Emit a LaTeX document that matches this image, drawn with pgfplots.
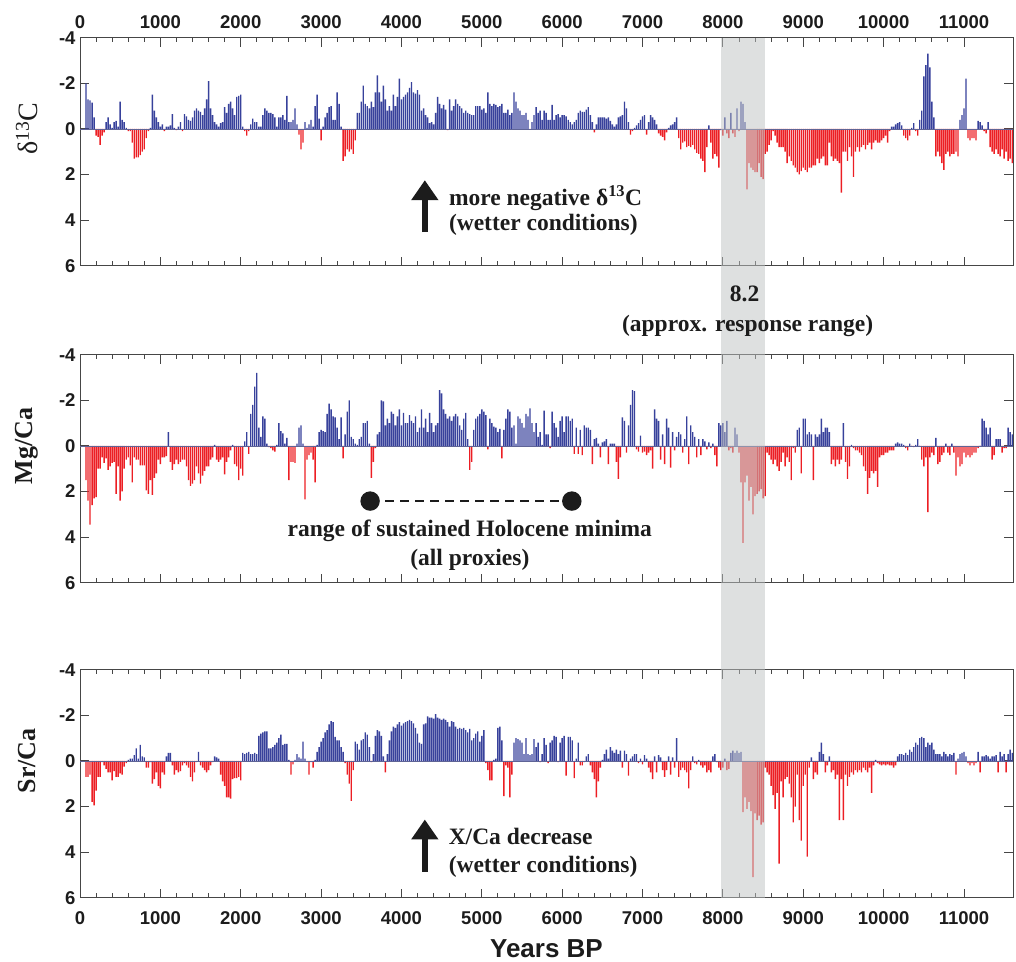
\documentclass[border=0pt]{standalone}
\usepackage{fontspec}
\setmainfont{Liberation Serif}
\newfontfamily\sansfont{Liberation Sans}
\usepackage{pgfplots}
\usepackage{pgfplotstable}
\pgfplotsset{compat=1.18}
\usetikzlibrary{arrows.meta}

\definecolor{proxyblue}{RGB}{55,65,155}
\definecolor{proxyred}{RGB}{236,30,36}
\definecolor{axisgray}{RGB}{70,70,70}
\definecolor{bandgray}{RGB}{190,194,194}
\definecolor{zerocol}{RGB}{95,100,150}
\definecolor{inkblack}{RGB}{28,28,28}

\newcommand\ticklabelfont{\sansfont\bfseries\fontsize{18.5bp}{20bp}\selectfont}
\newcommand\labelfont{\bfseries\fontsize{26bp}{28bp}\selectfont}
\newcommand\annfont{\bfseries\fontsize{23.5bp}{25bp}\selectfont}

% age (yr BP) and detrended anomalies of the three proxies
\pgfplotstableread{
age d13C MgCa SrCa
75 -2.0 1.5 0.7
100 -1.3 2.4 0.7
125 -1.25 3.45 0.6
150 -1.15 2.6 1.8
175 -0.5 2.3 1.95
200 0.3 2.25 1.3
225 0.35 1.0 0.7
250 0.7 1.0 0.7
275 0.3 0.5 0.05
300 0.15 0.75 0.2
325 -0.3 0.55 0.35
350 -0.5 1.05 0.5
375 -0.2 0.9 0.5
400 -0.05 0.75 0.85
425 -0.3 0.7 0.45
450 -0.35 2.1 0.7
475 -0.1 0.9 0.7
500 -1.2 2.4 0.55
525 -0.4 2.0 0.6
550 -0.3 1.0 0.25
575 -0.05 0.6 0.1
600 0.1 0.5 -0.05
625 0.1 0.85 -0.1
650 0.6 1.6 -0.1
675 1.3 0.5 -0.25
700 1.25 0.6 -0.55
725 1.25 0.6 -0.1
750 1.15 0.85 -0.7
775 1.0 0.85 -0.2
800 0.9 0.85 -0.15
825 0.4 1.95 0.3
850 0.1 2.1 0.3
875 -0.05 1.5 0.05
900 -1.5 2.15 1.0
925 -0.8 1.4 0.8
950 -0.5 1.2 0.5
975 -0.3 0.6 1.1
1000 -0.1 0.8 1.2
1025 -0.2 0.5 0.5
1050 0.1 0.5 0.6
1075 -0.1 0.45 -0.2
1100 -0.1 -0.6 -0.35
1125 -0.15 0.7 -0.35
1150 -0.65 1.05 0.2
1175 -0.05 0.8 0.6
1200 0.05 0.6 0.4
1225 -0.1 0.8 0.5
1250 -0.3 0.7 0.45
1275 0.1 0.6 0.2
1300 -0.65 0.6 0.1
1325 -0.55 0.9 0.2
1350 -0.4 1.5 0.3
1375 -0.35 1.75 0.7
1400 -0.5 1.65 0.9
1425 -0.8 1.5 0.5
1450 -0.9 0.9 0.05
1475 -0.8 1.2 -0.4
1500 -0.75 1.65 0.2
1525 -0.6 1.3 0.3
1550 -0.9 1.1 0.4
1575 -1.3 0.9 0.5
1600 -2.1 0.9 0.4
1625 -0.9 0.6 0.2
1650 -0.6 0.5 0.05
1675 -0.3 -0.05 -0.2
1700 -0.2 0.6 -0.15
1725 -0.1 0.7 -0.1
1750 -0.25 0.6 0.6
1775 -0.3 0.5 0.9
1800 -0.95 1.25 1.1
1825 -0.7 0.7 1.6
1850 -1.1 0.5 1.6
1875 -1.2 0.2 1.65
1900 -0.9 -0.05 0.8
1925 -0.6 0.8 0.75
1950 -1.4 0.9 0.75
1975 -1.45 1.5 0.7
2000 -1.5 1.0 0.85
2025 -0.1 1.3 -0.35
2050 0.1 -0.2 -0.3
2075 0.3 -0.6 -0.35
2100 0.1 0.35 -0.4
2125 -0.2 -1.4 -0.3
2150 -0.45 -1.8 -0.3
2175 -0.3 -2.6 -0.35
2200 -0.3 -3.2 -0.3
2225 -0.1 -0.8 -1.1
2250 -0.1 -0.4 -1.2
2275 -0.6 -1.3 -1.25
2300 -0.9 -1.2 -1.3
2325 -0.8 -0.1 -1.3
2350 -0.7 0.05 -0.55
2375 -0.7 0.1 -0.55
2400 -0.65 0.2 -0.6
2425 -0.5 0.25 -0.7
2450 -0.1 -0.05 -0.8
2475 -0.5 -1.0 -1.0
2500 -0.5 -0.65 -1.15
2525 -0.6 -0.55 -0.7
2550 -0.4 -0.1 -0.75
2575 -1.45 -0.35 -0.75
2600 -0.3 1.5 -0.05
2625 -0.3 0.7 0.6
2650 -0.4 0.7 0.15
2675 -0.9 0.75 -0.05
2700 -0.2 -0.1 -0.3
2725 0.25 -0.8 -0.15
2750 0.9 -0.9 -0.1
2775 0.6 -0.1 -0.85
2800 -0.3 2.35 -0.1
2825 -0.05 0.6 0.05
2850 -0.2 0.4 0.6
2875 -0.4 0.3 0.05
2900 -0.1 0.6 0.3
2925 -1.0 1.6 -0.05
2950 -1.5 -0.05 -0.4
2975 -0.45 -0.6 -0.6
3000 0.5 -0.7 -0.85
3025 -0.1 -0.65 -1.0
3050 -0.5 -0.6 -1.25
3075 -0.7 -1.4 -1.35
3100 -0.95 -1.85 -1.6
3125 -1.0 -1.6 -1.75
3150 -0.4 -1.3 -1.7
3175 -0.4 -1.25 -1.05
3200 -1.6 -0.8 -0.9
3225 -1.1 -0.3 -0.9
3250 -0.1 -1.25 -0.6
3275 1.4 0.55 -0.4
3300 1.2 -0.5 0.1
3325 0.9 -1.5 0.6
3350 1.0 -2.0 1.0
3375 0.9 -0.4 1.75
3400 1.1 -0.3 0.4
3425 0.5 -0.1 -0.85
3450 -0.7 -0.05 -0.75
3475 -0.7 -0.3 -0.5
3500 -1.2 -0.4 -0.9
3525 -1.9 -1.0 -0.95
3550 -1.1 -1.0 -1.25
3575 -1.0 -1.1 -1.15
3600 -0.9 -0.1 -0.6
3625 -1.2 1.4 0.05
3650 -0.95 0.7 -0.3
3675 -1.6 0.1 -1.1
3700 -2.35 -0.5 -1.35
3725 -1.6 -0.6 -1.3
3750 -1.2 -2.0 -1.1
3775 -1.9 -1.95 -0.2
3800 -1.3 -0.9 0.5
3825 -0.8 -1.2 -0.3
3850 -1.0 -1.0 -0.9
3875 -0.8 -1.5 -1.3
3900 -1.5 -1.4 -1.5
3925 -1.0 -0.9 -1.45
3950 -1.4 -1.3 -1.6
3975 -2.2 -1.6 -1.7
4000 -1.3 -0.9 -1.55
4025 -1.4 -1.45 -1.65
4050 -1.5 -1.0 -1.7
4075 -1.6 -1.0 -1.75
4100 -1.8 -1.35 -1.8
4125 -2.05 -1.1 -1.75
4150 -1.6 -1.0 -1.65
4175 -1.55 -1.3 -1.45
4200 -1.7 -0.6 -1.2
4225 -1.5 -0.8 -0.8
4250 -0.8 -1.6 -0.75
4275 -0.9 -0.8 -1.6
4300 -0.6 -1.2 -1.65
4325 -0.5 -0.6 -1.95
4350 -0.25 -1.45 -1.9
4375 -0.3 -1.0 -1.9
4400 -0.2 -0.6 -1.85
4425 -0.7 -0.9 -2.05
4450 -1.4 -1.0 -1.9
4475 -1.1 -2.45 -1.85
4500 -0.9 -2.3 -1.8
4525 -1.05 -1.6 -1.85
4550 -0.85 -1.4 -1.8
4575 0.05 -1.2 -1.7
4600 -1.3 -1.3 -1.5
4625 -0.8 -1.1 -1.75
4650 -1.0 -1.3 -1.7
4675 -1.3 -1.4 -1.5
4700 -1.1 -1.3 -1.4
4725 -1.0 -0.9 -1.45
4750 -0.9 -0.7 -1.4
4775 -0.7 -1.2 -1.45
4800 -0.8 -1.45 -1.35
4825 -0.7 -0.3 -1.25
4850 -0.65 1.05 -1.4
4875 -0.6 0.7 -0.9
4900 -0.6 -0.7 -1.0
4925 -1.0 -1.2 -1.2
4950 -1.0 -1.3 -1.3
4975 -1.0 -1.4 -0.85
5000 -0.85 -1.6 -1.1
5025 -0.9 -1.5 -1.35
5050 -0.7 -1.35 0.1
5075 -1.6 0.15 0.4
5100 -1.1 -1.2 0.85
5125 -1.0 -1.0 0.85
5150 -1.1 -0.85 -0.05
5175 -1.05 -0.8 -0.1
5200 -0.95 -0.6 -1.45
5225 -1.0 -0.75 -1.5
5250 -1.1 0.55 -0.9
5275 -0.7 -0.7 1.55
5300 -0.7 -1.2 0.2
5325 -0.85 -1.6 0.3
5350 -0.6 -1.5 1.6
5375 -0.7 -0.8 0.6
5400 -1.6 -0.9 -0.8
5425 -1.2 -0.1 -1.0
5450 -0.9 -1.3 -0.95
5475 -0.8 -1.2 -0.9
5500 -0.6 -1.0 -0.8
5525 -0.6 -0.8 -0.3
5550 -0.7 -1.4 -1.0
5575 -0.4 -1.3 -0.3
5600 0.02 -1.65 -0.25
5625 -0.3 -1.0 -0.3
5650 -0.6 -0.6 -0.95
5675 -0.95 -1.0 -0.6
5700 -0.7 -0.4 -0.8
5725 -0.8 -0.6 0.05
5750 -0.4 -0.05 -0.3
5775 -0.8 -1.55 -1.0
5800 -0.7 -0.5 -0.7
5825 -0.4 -0.5 0.1
5850 -0.4 0.1 -0.8
5875 -1.05 -1.5 -0.9
5900 -0.4 -1.0 -1.1
5925 -0.6 -0.8 -1.05
5950 -0.65 -0.4 0.05
5975 -0.5 -1.1 -0.8
6000 -0.6 -1.3 -1.0
6025 -0.6 -0.6 -1.1
6050 -0.55 -1.3 0.65
6075 -0.4 -1.3 -1.05
6100 -0.3 -1.1 -1.05
6125 -0.2 -1.2 -0.9
6150 -0.3 0.35 0.75
6175 -0.4 -0.8 -0.1
6200 -0.7 0.35 -0.8
6225 -0.8 -0.7 0.2
6250 -0.75 0.4 0.2
6275 -0.75 -0.9 0.05
6300 -0.85 -0.8 -0.2
6325 -0.95 -0.8 -0.3
6350 -0.6 -0.7 0.2
6375 -0.3 0.8 0.5
6400 0.15 -0.3 0.8
6425 -0.2 -0.35 1.6
6450 -0.5 -0.1 0.9
6475 -0.5 0.5 0.3
6500 -0.5 -0.15 -0.05
6525 -0.5 -0.2 -0.3
6550 -0.45 -0.3 -0.5
6575 -0.5 0.8 -0.1
6600 -0.35 -0.1 -0.6
6625 -0.2 -0.1 -0.45
6650 -0.1 -0.1 -0.35
6675 -0.2 0.7 -0.5
6700 -0.5 1.45 -0.3
6725 -0.55 0.5 -0.45
6750 -0.6 -1.25 0.3
6775 -1.2 -1.1 -0.45
6800 -0.9 0.3 -0.3
6825 -0.3 -0.9 0.65
6850 0.25 -1.8 -0.1
6875 0.1 -2.45 -0.2
6900 -0.05 -2.4 -0.3
6925 -0.15 0.15 -0.3
6950 -0.25 0.25 0.1
6975 -0.4 -0.45 -0.1
7000 -0.55 0.3 0.15
7025 -0.6 0.25 -0.25
7050 0.25 0.4 -0.1
7075 -0.3 0.3 0.3
7100 -0.6 0.2 0.5
7125 -0.5 1.0 0.8
7150 -0.4 -1.6 -0.2
7175 -0.2 -1.2 0.5
7200 0.2 -1.1 -0.25
7225 0.3 0.6 -0.15
7250 0.35 -0.5 0.4
7275 0.5 0.8 0.7
7300 0.15 -1.2 0.4
7325 -0.05 -0.8 -0.2
7350 -0.15 0.95 0.6
7375 -0.2 -0.6 -0.15
7400 -0.3 0.2 0.3
7425 -0.5 -0.4 -1.0
7450 0.4 -0.6 0.7
7475 0.9 -0.5 0.4
7500 0.6 0.3 0.3
7525 0.55 -0.3 0.4
7550 0.8 -1.3 0.5
7575 0.75 0.8 1.2
7600 0.8 -0.9 0.4
7625 0.7 -0.6 -0.2
7650 0.9 -0.4 0.1
7675 1.05 0.5 0.15
7700 1.1 -0.3 -0.05
7725 1.3 0.4 0.2
7750 1.4 -0.3 0.3
7775 1.9 -0.2 0.2
7800 0.8 0.15 0.5
7825 -0.15 -0.15 0.4
7850 0.6 0.1 0.5
7875 1.3 -0.1 -0.2
7900 1.1 0.4 -0.3
7925 1.2 0.9 0.05
7950 1.7 -1.0 0.3
7975 0.05 -0.9 0.4
8000 0.3 -1.0 0.3
8025 -0.5 -0.6 -0.1
8050 0.2 -1.1 0.4
8075 0.4 0.2 0.35
8100 -0.7 0.1 -0.35
8125 0.2 0.3 -0.45
8150 0.35 -0.8 -0.35
8175 -0.9 -0.5 -0.45
8200 0.1 0.3 -0.35
8225 -1.2 1.6 -0.4
8250 -1.1 4.25 2.25
8275 -0.3 1.6 1.6
8300 2.65 1.3 2.1
8325 1.5 2.4 1.8
8350 1.7 1.8 2.2
8375 1.8 3.0 5.1
8400 1.9 2.2 2.3
8425 1.9 2.1 2.6
8450 1.5 2.0 2.4
8475 2.1 1.9 2.8
8500 2.2 2.3 2.7
8525 1.1 2.2 0.3
8550 1.0 0.3 0.5
8575 0.7 0.4 0.6
8600 0.5 0.6 1.1
8625 0.1 0.8 1.5
8650 0.3 0.6 2.1
8675 0.6 0.9 1.4
8700 0.8 1.1 4.5
8725 0.8 0.7 0.9
8750 0.8 0.3 1.6
8775 1.0 0.9 0.8
8800 1.5 0.5 0.7
8825 1.2 0.7 1.0
8850 1.4 1.5 1.6
8875 1.6 0.1 2.7
8900 1.7 0.3 2.0
8925 1.9 -0.7 0.6
8950 2.0 -0.8 2.6
8975 1.85 1.2 3.5
9000 1.7 -1.2 1.1
9025 1.8 -1.2 0.6
9050 1.9 -0.5 4.2
9075 1.7 -0.6 0.3
9100 1.7 -0.5 -0.15
9125 1.6 1.5 0.8
9150 1.6 -0.5 0.5
9175 1.3 -0.4 0.6
9200 1.5 -0.5 -0.4
9225 1.3 -1.2 -0.8
9250 1.2 -0.6 -0.3
9275 1.6 -0.8 0.5
9300 1.6 -0.8 0.2
9325 0.6 -0.6 -0.2
9350 1.2 0.8 0.5
9375 1.4 0.6 0.4
9400 1.3 0.9 0.8
9425 1.4 0.6 0.6
9450 1.5 0.8 2.6
9475 2.8 0.6 0.8
9500 1.0 -1.0 2.6
9525 1.0 0.7 0.6
9550 1.4 1.45 1.1
9575 0.8 0.9 0.7
9600 1.2 -0.05 0.5
9625 2.1 0.1 0.6
9650 1.0 0.2 0.4
9675 0.8 0.2 0.5
9700 1.0 0.3 0.4
9725 0.8 0.4 0.5
9750 0.7 0.9 0.3
9775 0.9 1.1 0.4
9800 0.7 2.1 0.5
9825 0.6 1.4 0.3
9850 0.9 1.1 1.4
9875 0.6 1.2 0.2
9900 0.5 1.1 -0.05
9925 0.6 1.8 0.1
9950 0.6 0.5 0.15
9975 0.5 0.4 0.2
10000 0.4 0.4 0.15
10025 0.3 0.3 0.2
10050 0.6 0.3 0.15
10075 0.1 0.2 0.2
10100 -0.1 0.2 0.2
10125 -0.1 0.2 0.3
10150 -0.2 -0.1 0.2
10175 -0.25 -0.15 -0.2
10200 -0.3 -0.1 -0.3
10225 -0.15 -0.1 -0.3
10250 0.3 -0.05 -0.25
10275 0.4 0.1 -0.35
10300 0.5 0.2 -0.25
10325 0.3 -0.1 -0.5
10350 -0.05 0 -0.4
10375 -0.25 0.05 -0.6
10400 0.1 -0.05 -0.8
10425 0.3 -0.3 -0.7
10450 -0.4 0 -1.0
10475 -0.8 0.6 -1.05
10500 -2.3 0.9 -1.0
10525 -2.8 0.5 -0.6
10550 -3.3 2.9 -0.8
10575 -2.7 0.5 -0.7
10600 -1.2 0.3 -0.8
10625 -0.5 0.4 -0.5
10650 1.2 -0.35 -0.3
10675 1.0 0.8 -0.3
10700 1.2 0.7 -0.3
10725 1.5 0.4 -0.2
10750 1.8 0.3 -0.4
10775 1.1 -0.1 -0.3
10800 1.0 0.3 -0.2
10825 1.2 0.4 -0.3
10850 1.1 -0.1 -0.25
10875 1.1 0.3 -0.35
10900 1.0 1.3 0.6
10925 1.2 0.5 -0.1
10950 -0.4 0.9 -0.3
10975 -0.6 0.8 -0.35
11000 -0.9 0.3 -0.4
11025 -2.2 0.5 -0.2
11050 0.4 0.4 0.1
11075 0.5 0.5 0.2
11100 0.4 0.4 0.1
11125 0.4 0.3 0.2
11150 0.5 0.3 0.1
11175 -0.35 0.1 -0.4
11200 -0.3 0 0.5
11225 -0.15 -1.2 -0.2
11250 0.1 -1.1 -0.2
11275 0.2 -0.8 -0.25
11300 -0.3 -0.5 -0.2
11325 0.8 -0.8 -0.1
11350 1.0 0.6 -0.2
11375 1.1 0.4 -0.2
11400 0.9 -0.3 -0.25
11425 1.1 -0.3 0.5
11450 1.2 -0.3 -0.4
11475 0.9 0.3 -0.2
11500 1.3 0.1 -0.3
11525 1.0 0.1 0.5
11550 1.4 -0.8 -0.3
11575 1.3 -0.6 -0.5
11600 1.5 -0.5 -0.35
}\proxydata

\tikzset{zeroline/.style={draw=zerocol, line width=0.7bp}}

\pgfplotsset{
  proxypanel/.style={
    scale only axis, width=933bp, height=228bp, anchor=south west,
    xmin=0, xmax=11610, ymin=-4, ymax=6, y dir=reverse,
    scaled x ticks=false, scaled y ticks=false,
    xtick={0,1000,...,11000},
    xticklabels={0,1000,2000,3000,4000,5000,6000,7000,8000,9000,10000,11000},
    minor x tick num=4,
    ytick={-4,-2,0,2,4,6}, yticklabels={-4,-2,0,2,4,6},
    tick align=inside,
    major tick length=9bp, minor tick length=4.5bp,
    axis line style={line width=0.9bp, draw=axisgray},
    every tick/.style={line width=0.9bp, draw=axisgray},
    tick label style={font=\ticklabelfont, text=inkblack},
    yticklabel style={xshift=-1bp},
    every axis y label/.style={at={([xshift=-53bp]rel axis cs:0,0.6)}, rotate=90, anchor=center, font=\labelfont, text=inkblack},
    clip=false,
  },
  wetbar/.style={ybar, bar width=1.4bp, bar shift=0bp, fill=proxyblue, draw=none, restrict y to domain=-10:0},
  drybar/.style={ybar, bar width=1.4bp, bar shift=0bp, fill=proxyred, draw=none, restrict y to domain=0:10},
}

\begin{document}
\begin{tikzpicture}
\path[use as bounding box] (0,0) rectangle (1016bp,962bp);

% delta 13C
\begin{axis}[proxypanel, at={(80bp,696.3bp)},
    xticklabel pos=top, xticklabel style={yshift=5bp},
    ylabel={δ\textsuperscript{13}C},
    ylabel style={font=\fontsize{28bp}{30bp}\selectfont}]
  \addplot[wetbar] table[x=age, y=d13C] {\proxydata};
  \addplot[drybar] table[x=age, y=d13C] {\proxydata};
  \draw[zeroline] (axis cs:0,0) -- (axis cs:11610,0);
  \draw[-{Triangle[width=26bp,length=20bp]}, line width=5.5bp, inkblack]
    (axis cs:4291,4.53) -- (axis cs:4291,2.25);
  \node[anchor=base west, font=\annfont, text=inkblack] at (axis cs:4548,3.35)
    {more negative δ\textsuperscript{13}C};
  \node[anchor=base west, font=\annfont, text=inkblack] at (axis cs:4548,4.44)
    {(wetter conditions)};
  \coordinate (bandTL) at (axis cs:7975,-4);
  \coordinate (lblA) at (axis cs:8271,7.59);
  \coordinate (lblB) at (axis cs:8308,8.87);
\end{axis}

% Mg/Ca
\begin{axis}[proxypanel, at={(80bp,379.3bp)},
    xticklabels={}, ylabel={Mg/Ca}]
  \addplot[wetbar] table[x=age, y=MgCa] {\proxydata};
  \addplot[drybar] table[x=age, y=MgCa] {\proxydata};
  \draw[zeroline] (axis cs:0,0) -- (axis cs:11610,0);
  \addplot[inkblack, line width=2.4bp, dash pattern=on 9bp off 6bp,
    mark=*, mark size=8.5bp, mark options={solid, fill=inkblack, draw=inkblack}]
    coordinates {(3610,2.42) (6120,2.42)};
  \node[anchor=base, font=\annfont, text=inkblack] at (axis cs:4851,3.98)
    {range of sustained Holocene minima};
  \node[anchor=base, font=\annfont, text=inkblack] at (axis cs:4851,5.23)
    {(all proxies)};
\end{axis}

% Sr/Ca
\begin{axis}[proxypanel, at={(80bp,64.3bp)},
    xticklabel style={yshift=-10bp},
    ylabel={Sr/Ca}, xlabel={Years BP},
    every axis x label/.style={at={([yshift=-51bp]rel axis cs:0.5,0)}, anchor=center,
      font=\sansfont\bfseries\fontsize{26bp}{28bp}\selectfont, text=inkblack}]
  \addplot[wetbar] table[x=age, y=SrCa] {\proxydata};
  \addplot[drybar] table[x=age, y=SrCa] {\proxydata};
  \draw[zeroline] (axis cs:0,0) -- (axis cs:11610,0);
  \draw[-{Triangle[width=26bp,length=20bp]}, line width=5.5bp, inkblack]
    (axis cs:4291,4.86) -- (axis cs:4291,2.57);
  \node[anchor=base west, font=\annfont, text=inkblack] at (axis cs:4545,3.67)
    {X/Ca decrease};
  \node[anchor=base west, font=\annfont, text=inkblack] at (axis cs:4545,4.9)
    {(wetter conditions)};
  \coordinate (bandBR) at (axis cs:8530,6);
\end{axis}

% 8.2 ka event window
\fill[bandgray, opacity=0.5] (bandTL) rectangle (bandBR);
\node[anchor=base, font=\annfont, text=inkblack] at (lblA) {8.2};
\node[anchor=base, font=\annfont, text=inkblack] at (lblB) {(approx. response range)};
\end{tikzpicture}
\end{document}
